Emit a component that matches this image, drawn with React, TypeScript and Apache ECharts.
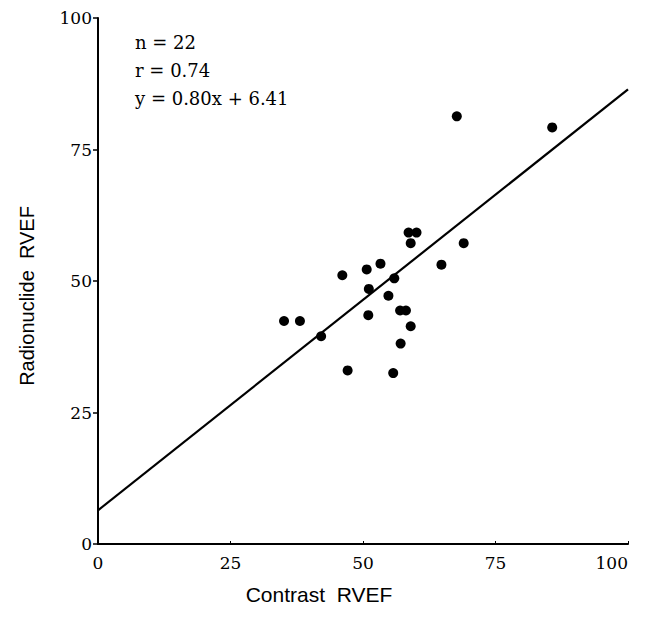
import React, { useEffect, useRef } from "react";
import * as echarts from "echarts";

const contrastRVEF = [35.1, 38.1, 42.1, 46.1, 47.1, 50.7, 53.3, 51.1, 51.0, 55.9, 54.8, 57.0, 58.1, 59.0, 57.1, 55.7, 58.6, 60.1, 59.0, 64.8, 69.0, 67.7, 85.7];
const radionuclideRVEF = [42.4, 42.4, 39.5, 51.1, 33.0, 52.2, 53.3, 48.5, 43.5, 50.5, 47.2, 44.4, 44.4, 41.4, 38.1, 32.5, 59.2, 59.2, 57.2, 53.1, 57.2, 81.3, 79.2];
const fitSlope = 0.8;
const fitIntercept = 6.41;
const fitRange = [0, 100];
const statLines = ["n = 22", "r = 0.74", "y = 0.80x + 6.41"];

export default function App() {
  const ref = useRef<HTMLDivElement>(null);
  useEffect(() => {
    if (!ref.current) return;
    const chart = echarts.init(ref.current, undefined, { renderer: "svg" });
    const points = contrastRVEF.map((x, i) => [x, radionuclideRVEF[i]]);
    const fit = fitRange.map((x) => [x, fitSlope * x + fitIntercept]);
    const labelFont = { fontFamily: "DejaVu Serif", fontSize: 17, color: "#000" };
    chart.setOption({
      animation: false,
      backgroundColor: "#fff",
      grid: { left: 98, right: 22, top: 18, bottom: 74, containLabel: false },
      xAxis: {
        type: "value",
        min: 0,
        max: 100,
        interval: 25,
        axisLine: { show: true, lineStyle: { color: "#000", width: 2 } },
        axisTick: { show: true, inside: true, length: 3, lineStyle: { color: "#000" } },
        splitLine: { show: false },
        axisLabel: { ...labelFont, margin: 10, showMaxLabel: true, showMinLabel: true, alignMaxLabel: "right" },
      },
      yAxis: {
        type: "value",
        min: 0,
        max: 100,
        interval: 25,
        axisLine: { show: true, lineStyle: { color: "#000", width: 2 } },
        axisTick: { show: true, length: 5, lineStyle: { color: "#000", width: 1.5 } },
        splitLine: { show: false },
        axisLabel: { ...labelFont, margin: 6 },
      },
      series: [
        {
          type: "line",
          data: fit,
          symbol: "none",
          lineStyle: { color: "#000", width: 2.2 },
          silent: true,
        },
        {
          type: "scatter",
          data: points,
          symbol: "circle",
          symbolSize: 10,
          itemStyle: { color: "#000", opacity: 1 },
        },
      ],
      graphic: [
        ...statLines.map((t, i) => ({
          type: "text",
          left: 135,
          top: 33 + i * 28,
          style: { text: t, fontFamily: "DejaVu Serif", fontSize: 18, fill: "#000" },
        })),
        {
          type: "text",
          x: 319,
          y: 594,
          style: {
            text: "Contrast  RVEF",
            fontFamily: "Liberation Sans",
            fontSize: 21,
            fill: "#000",
            align: "center",
            verticalAlign: "middle",
          },
        },
        {
          type: "text",
          x: 27,
          y: 296,
          rotation: Math.PI / 2,
          style: {
            text: "Radionuclide  RVEF",
            fontFamily: "Liberation Sans",
            fontSize: 20,
            fill: "#000",
            align: "center",
            verticalAlign: "middle",
          },
        },
      ],
    });
    return () => chart.dispose();
  }, []);
  return <div ref={ref} style={{ width: 650, height: 618, margin: -8 }} />;
}
